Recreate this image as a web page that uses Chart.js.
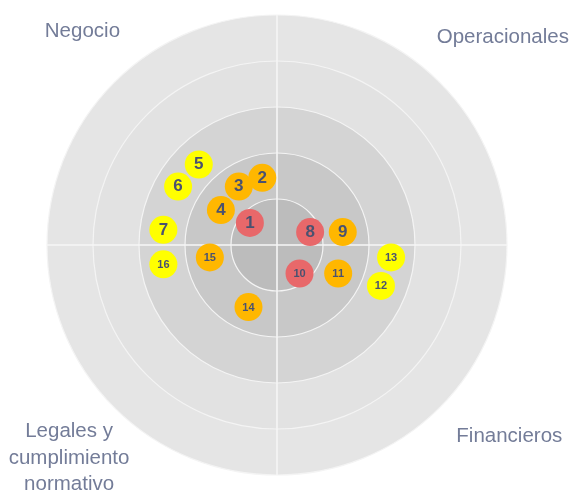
<!DOCTYPE html>
<html>
<head>
<meta charset="utf-8">
<script src="https://cdn.jsdelivr.net/npm/chart.js@4/dist/chart.umd.min.js"></script>
<style>
html,body{margin:0;padding:0;background:#fff;}
#wrap{width:571px;height:490px;}
</style>
</head>
<body>
<div id="wrap"><canvas id="c" width="571" height="490"></canvas></div>
<script>
// Risk ids and positions (units: one ring = 1)
const riskIds = ['1','2','3','4','5','6','7','8','9','10','11','12','13','14','15','16'];
const riskX = [-0.59,-0.32,-0.83,-1.22,-1.70,-2.15,-2.47,0.72,1.43,0.49,1.33,2.26,2.48,-0.62,-1.46,-2.47];
const riskY = [0.48,1.46,1.27,0.76,1.75,1.27,0.33,0.28,0.28,-0.62,-0.62,-0.89,-0.27,-1.35,-0.27,-0.42];
const riskLevel = ['high','med','med','med','low','low','low','high','med','high','med','low','low','med','med','low'];
const levelColors = {high:'#e8686a', med:'#ffb700', low:'#ffff00'};
// Concentric rings (outer to inner)
const ringRadii = [5,4,3,2,1];
const ringColors = ['#e5e5e5','#e2e2e2','#d4d4d4','#c8c8c8','#bcbcbc'];
// Quadrant labels
const quadrantLabels = [
  {lines:['Negocio'], x:-4.23, y:4.64},
  {lines:['Operacionales'], x:4.91, y:4.52},
  {lines:['Legales y','cumplimiento','normativo'], x:-4.52, y:-4.06},
  {lines:['Financieros'], x:5.05, y:-4.17}
];

const targetPlugin = {
  id:'target',
  beforeDatasetsDraw(chart){
    const {ctx, scales:{x,y}} = chart;
    const cx = x.getPixelForValue(0), cy = y.getPixelForValue(0);
    const unit = x.getPixelForValue(1) - cx;
    ctx.save();
    ringRadii.forEach((r,i)=>{
      ctx.beginPath();
      ctx.arc(cx,cy,r*unit,0,Math.PI*2);
      ctx.fillStyle = ringColors[i];
      ctx.fill();
      ctx.lineWidth = 1.2;
      ctx.strokeStyle = '#f4f4f4';
      ctx.stroke();
    });
    const R = ringRadii[0]*unit;
    ctx.strokeStyle = '#f6f6f6';
    ctx.lineWidth = 1.6;
    ctx.beginPath();
    ctx.moveTo(cx-R,cy); ctx.lineTo(cx+R,cy);
    ctx.moveTo(cx,cy-R); ctx.lineTo(cx,cy+R);
    ctx.stroke();
    ctx.restore();
  },
  afterDatasetsDraw(chart){
    const {ctx, scales:{x,y}} = chart;
    ctx.save();
    ctx.textAlign='center';
    ctx.textBaseline='middle';
    ctx.fillStyle='#4a5270';
    chart.getDatasetMeta(0).data.forEach((el,i)=>{
      const t = riskIds[i];
      ctx.font = t.length>1 ? 'bold 11px "Liberation Sans", Arial, sans-serif' : 'bold 17px "Liberation Sans", Arial, sans-serif';
      ctx.fillText(t, el.x, el.y+ (t.length>1?0.5:0));
    });
    ctx.font = '20.5px "Liberation Sans", Arial, sans-serif';
    ctx.fillStyle = '#737c98';
    quadrantLabels.forEach(q=>{
      const px = x.getPixelForValue(q.x), py = y.getPixelForValue(q.y);
      q.lines.forEach((ln,k)=>{
        ctx.fillText(ln, px, py + k*26.5);
      });
    });
    ctx.restore();
  }
};

new Chart(document.getElementById('c'), {
  type:'bubble',
  data:{
    datasets:[{
      data: riskIds.map((id,i)=>({x:riskX[i], y:riskY[i], r:14})),
      backgroundColor: riskLevel.map(l=>levelColors[l]),
      borderWidth:0,
      hoverRadius:0
    }]
  },
  options:{
    responsive:false,
    animation:false,
    layout:{padding:{left:47,right:64,top:15,bottom:15}},
    plugins:{legend:{display:false}, tooltip:{enabled:false}},
    scales:{
      x:{type:'linear', min:-5, max:5, display:false},
      y:{type:'linear', min:-5, max:5, display:false}
    }
  },
  plugins:[targetPlugin]
});
</script>
</body>
</html>
